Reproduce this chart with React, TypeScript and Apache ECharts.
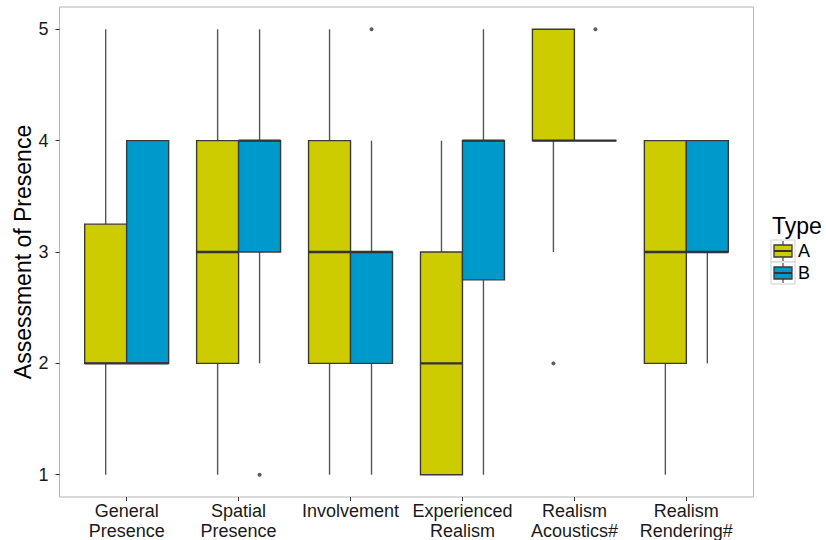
import React, { useEffect, useRef } from "react";
import * as echarts from "echarts";

const categories = [
  "General\nPresence",
  "Spatial\nPresence",
  "Involvement",
  "Experienced\nRealism",
  "Realism\nAcoustics#",
  "Realism\nRendering#",
];
const yTicks = [1, 2, 3, 4, 5];
// [low whisker, Q1, median, Q3, high whisker]
const typeA = [
  [1, 2, 2, 3.25, 5],
  [1, 2, 3, 4, 5],
  [1, 2, 3, 4, 5],
  [1, 1, 2, 3, 4],
  [3, 4, 4, 5, 5],
  [1, 2, 3, 4, 4],
];
const typeB = [
  [2, 2, 2, 4, 4],
  [2, 3, 4, 4, 5],
  [1, 2, 3, 3, 4],
  [1, 2.75, 4, 4, 5],
  [4, 4, 4, 4, 4],
  [2, 3, 3, 4, 4],
];
// [category index (0-based), value]
const outliersA = [[4, 2]];
const outliersB = [
  [1, 1],
  [2, 5],
  [4, 5],
];
const types = ["A", "B"];
const colors = ["#CCCC00", "#0099CC"];

const DODGE = 0.1875;
const BOXW = 0.375;
const FONT = "'Liberation Sans', Arial, sans-serif";

function boxSeries(name: string, stats: number[][], off: number, color: string) {
  return {
    type: "custom",
    name,
    data: stats.map((s, i) => [i + 1 + off, ...s]),
    encode: { x: 0, y: [1, 2, 3, 4, 5] },
    renderItem: (params: any, api: any) => {
      const x = api.value(0);
      const lo = api.coord([x, api.value(1)]);
      const q1 = api.coord([x, api.value(2)]);
      const md = api.coord([x, api.value(3)]);
      const q3 = api.coord([x, api.value(4)]);
      const hi = api.coord([x, api.value(5)]);
      const hw = api.size([BOXW, 1])[0] / 2;
      const cx = md[0];
      const whisker = { stroke: "#555555", lineWidth: 1.4 };
      return {
        type: "group",
        children: [
          { type: "line", shape: { x1: cx, y1: q3[1], x2: cx, y2: hi[1] }, style: whisker },
          { type: "line", shape: { x1: cx, y1: q1[1], x2: cx, y2: lo[1] }, style: whisker },
          {
            type: "rect",
            shape: { x: cx - hw, y: q3[1], width: hw * 2, height: q1[1] - q3[1] },
            style: { fill: color, stroke: "#3a3a3a", lineWidth: 1.4 },
          },
          {
            type: "line",
            shape: { x1: cx - hw, y1: md[1], x2: cx + hw, y2: md[1] },
            style: { stroke: "#333333", lineWidth: 2.3 },
          },
        ],
      };
    },
    z: 2,
  };
}

function legendKey(y: number, color: string) {
  const x = 771;
  return [
    { type: "rect", shape: { x, y, width: 24, height: 22 }, style: { fill: "#ffffff", stroke: "#d0d0d0", lineWidth: 1 } },
    { type: "line", shape: { x1: x + 12, y1: y + 1, x2: x + 12, y2: y + 21 }, style: { stroke: "#555555", lineWidth: 1.3 } },
    { type: "rect", shape: { x: x + 3, y: y + 5, width: 18, height: 12 }, style: { fill: color, stroke: "#3a3a3a", lineWidth: 1.3 } },
    { type: "line", shape: { x1: x + 3, y1: y + 11, x2: x + 21, y2: y + 11 }, style: { stroke: "#333333", lineWidth: 2 } },
  ];
}

export default function App() {
  const ref = useRef<HTMLDivElement>(null);
  useEffect(() => {
    if (!ref.current) return;
    const chart = echarts.init(ref.current, undefined, { renderer: "svg" });
    const option: any = {
      animation: false,
      backgroundColor: "#ffffff",
      textStyle: { fontFamily: FONT },
      grid: {
        left: 59.5,
        right: 72.5,
        top: 7,
        bottom: 43,
        show: true,
        borderColor: "#b5b5b5",
        borderWidth: 1,
        backgroundColor: "#ffffff",
        containLabel: false,
        outerBoundsMode: "none",
      },
      xAxis: {
        type: "value",
        min: 0.4,
        max: 6.6,
        splitLine: { show: false },
        axisLine: { show: false },
        axisTick: { show: true, customValues: [1, 2, 3, 4, 5, 6], length: 4, lineStyle: { color: "#333333", width: 1 } },
        axisLabel: {
          customValues: [1, 2, 3, 4, 5, 6],
          formatter: (v: number) => categories[Math.round(v) - 1] ?? "",
          fontSize: 18,
          lineHeight: 20,
          color: "#1a1a1a",
          margin: 4,
          fontFamily: FONT,
        },
      },
      yAxis: {
        type: "value",
        min: 0.8,
        max: 5.2,
        name: "Assessment of Presence",
        nameLocation: "middle",
        nameGap: 25,
        nameMoveOverlap: false,
        nameTextStyle: { fontSize: 23, color: "#000000", fontFamily: FONT },
        splitLine: { show: false },
        axisLine: { show: false },
        axisTick: { show: true, customValues: yTicks, length: 4, lineStyle: { color: "#333333", width: 1 } },
        axisLabel: {
          customValues: yTicks,
          fontSize: 18,
          color: "#1a1a1a",
          margin: 11,
          fontFamily: FONT,
        },
      },
      series: [
        boxSeries(types[0], typeA, -DODGE, colors[0]),
        boxSeries(types[1], typeB, DODGE, colors[1]),
        {
          type: "scatter",
          name: "A outliers",
          data: outliersA.map((o) => [o[0] + 1 - DODGE, o[1]]),
          symbolSize: 4,
          itemStyle: { color: "#333333" },
          z: 3,
        },
        {
          type: "scatter",
          name: "B outliers",
          data: outliersB.map((o) => [o[0] + 1 + DODGE, o[1]]),
          symbolSize: 4,
          itemStyle: { color: "#333333" },
          z: 3,
        },
      ],
      graphic: [
        {
          type: "text",
          left: 772,
          top: 214,
          style: { text: "Type", fontSize: 23, fill: "#000000", fontFamily: FONT },
        },
        ...legendKey(240, colors[0]),
        ...legendKey(262, colors[1]),
        {
          type: "text",
          left: 798,
          top: 242,
          style: { text: types[0], fontSize: 18, fill: "#000000", fontFamily: FONT },
        },
        {
          type: "text",
          left: 798,
          top: 264,
          style: { text: types[1], fontSize: 18, fill: "#000000", fontFamily: FONT },
        },
      ],
    };
    chart.setOption(option);
    return () => chart.dispose();
  }, []);
  return <div ref={ref} style={{ width: 826, height: 540, position: "absolute", left: 0, top: 0 }} />;
}
